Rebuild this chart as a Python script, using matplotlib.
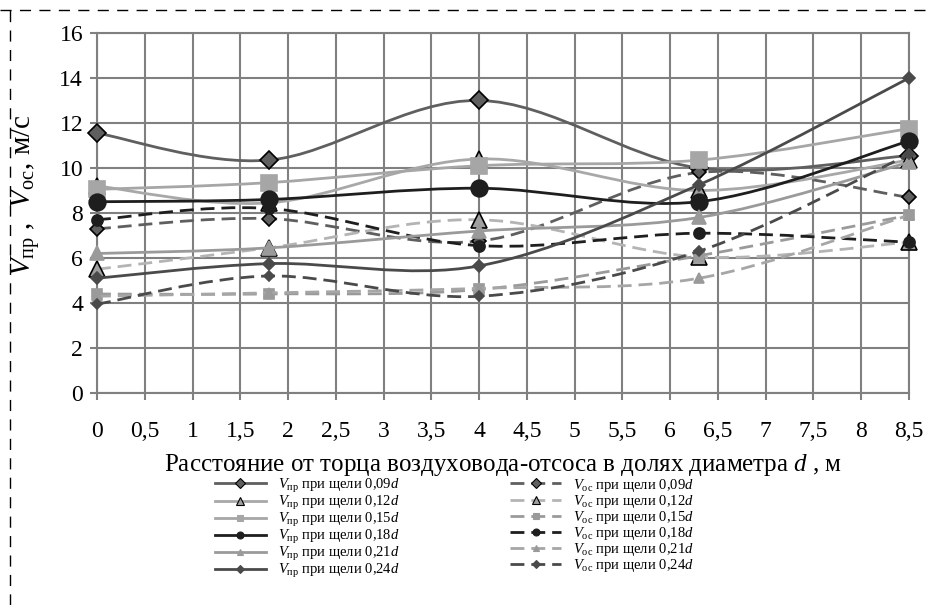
# Скорости в зоне щелевого отсоса (Excel-style smoothed lines)
import numpy as np
import matplotlib
matplotlib.use("Agg")
import matplotlib.pyplot as plt
from matplotlib.path import Path
from matplotlib.patches import PathPatch
from matplotlib.lines import Line2D

plt.rcParams['font.family'] = ['Liberation Serif', 'DejaVu Serif']
plt.rcParams['mathtext.fontset'] = 'custom'
plt.rcParams['mathtext.rm'] = 'Liberation Serif'
plt.rcParams['mathtext.it'] = 'Liberation Serif:italic'

# data
x_pts = [0, 1.8, 4, 6.3, 8.5]

v_pr_009 = [11.55, 10.35, 13.0, 10.0, 10.55]
v_pr_012 = [9.2, 8.45, 10.4, 9.0, 10.35]
v_pr_015 = [9.05, 9.35, 10.1, 10.35, 11.75]
v_pr_018 = [8.5, 8.6, 9.1, 8.5, 11.2]
v_pr_021 = [6.2, 6.45, 7.2, 7.8, 10.25]
v_pr_024 = [5.1, 5.75, 5.65, 9.25, 14.0]

v_os_009 = [7.3, 7.75, 6.75, 9.8, 8.7]
v_os_012 = [5.5, 6.45, 7.7, 6.05, 6.7]
v_os_015 = [4.4, 4.4, 4.6, 6.1, 7.9]
v_os_021 = [4.3, 4.45, 4.65, 5.1, 7.9]
v_os_018 = [7.7, 8.2, 6.55, 7.1, 6.7]
v_os_024 = [3.95, 5.2, 4.3, 6.3, 10.6]

slots = ["0,09", "0,12", "0,15", "0,18", "0,21", "0,24"]

x_ticks = [0, 0.5, 1, 1.5, 2, 2.5, 3, 3.5, 4, 4.5, 5, 5.5, 6, 6.5, 7, 7.5, 8, 8.5]
x_tick_labels = ["0", "0,5", "1", "1,5", "2", "2,5", "3", "3,5", "4", "4,5",
                 "5", "5,5", "6", "6,5", "7", "7,5", "8", "8,5"]
y_ticks = [0, 2, 4, 6, 8, 10, 12, 14, 16]


def smooth_path(xs, ys):
    # bezier smoothing like Excel's "smoothed line"
    pts = np.column_stack([xs, ys]).astype(float)
    n = len(pts)
    verts = [pts[0]]
    codes = [Path.MOVETO]
    for i in range(n - 1):
        p0 = pts[i - 1] if i > 0 else pts[i]
        p1 = pts[i]
        p2 = pts[i + 1]
        p3 = pts[i + 2] if i + 2 < n else pts[i + 1]
        verts += [p1 + (p2 - p0) / 6, p2 - (p3 - p1) / 6, p2]
        codes += [Path.CURVE4] * 3
    return Path(verts, codes)


# (values, colour, linestyle, marker, size, face, edge, legend size)
dash = (0, (5, 2.5))
series = [
    (v_pr_009, "#5f5f5f", "-", "D", 9, "#5f5f5f", "black", 5),
    (v_os_009, "#5f5f5f", dash, "D", 7.5, "#5f5f5f", "black", 5),
    (v_pr_012, "#a8a8a8", "-", "^", 11, "#a0a0a0", "black", 5.5),
    (v_os_012, "#b4b4b4", dash, "^", 11, "#a0a0a0", "black", 5.5),
    (v_pr_015, "#a6a6a6", "-", "s", 12, "#a6a6a6", "#a6a6a6", 5),
    (v_os_015, "#9a9a9a", dash, "s", 7, "#9a9a9a", "#9a9a9a", 5),
    (v_pr_018, "#1e1e1e", "-", "o", 12, "#1e1e1e", "#1e1e1e", 5),
    (v_os_018, "#1e1e1e", dash, "o", 8, "#1e1e1e", "#1e1e1e", 5),
    (v_pr_021, "#9a9a9a", "-", "^", 10, "#9a9a9a", "#9a9a9a", 5),
    (v_os_021, "#a6a6a6", dash, "^", 7.5, "#9a9a9a", "#9a9a9a", 5),
    (v_pr_024, "#4a4a4a", "-", "D", 6.5, "#4a4a4a", "#4a4a4a", 4.5),
    (v_os_024, "#4a4a4a", dash, "D", 5.5, "#4a4a4a", "#4a4a4a", 4.5),
]

fig = plt.figure(figsize=(9.29, 6.05), dpi=100)
ax = fig.add_axes([0.1044, 0.3504, 0.8741, 0.5951])

handles_pr, handles_os = [], []
z = 3
for k, (vals, col, ls, mk, ms, fc, ec, lms) in enumerate(series):
    patch = PathPatch(smooth_path(x_pts, vals), facecolor="none", edgecolor=col,
                      lw=2.0, linestyle=ls, capstyle="butt", zorder=z)
    ax.add_patch(patch)
    ax.plot(x_pts, vals, ls="none", marker=mk, ms=ms, mfc=fc, mec=ec, mew=1.2,
            clip_on=False, zorder=z + 0.5)
    z += 1
    h = Line2D([], [], color=col, lw=2.0, ls=ls, marker=mk, ms=lms, mfc=fc,
               mec=ec, mew=0.8)
    if k % 2 == 0:
        handles_pr.append(h)
    else:
        handles_os.append(h)

labels_pr = [r"$V_{\mathrm{пр}}$ при щели " + s + r"$d$" for s in slots]
labels_os = [r"$V_{\mathrm{ос}}$ при щели " + s + r"$d$" for s in slots]

ax.set_xlim(0, 8.5)
ax.set_ylim(0, 16)
ax.set_xticks(x_ticks)
ax.set_xticklabels(x_tick_labels)
ax.set_yticks(y_ticks)
ax.grid(True, color="#808080", lw=1.5, zorder=1)
ax.set_axisbelow(True)
for sp in ax.spines.values():
    sp.set_color("#808080")
    sp.set_linewidth(1.5)
ax.tick_params(axis="both", length=5, width=1.5, color="#808080", labelsize=17)
ax.tick_params(axis="x", pad=15)
ax.tick_params(axis="y", pad=5)

ax.set_xlabel(r"Расстояние от торца воздуховода-отсоса в долях диаметра $d$ , м",
              fontsize=18, labelpad=7)
ax.set_ylabel(r"$V_{\mathrm{пр}}$ ,  $V_{\mathrm{ос}}$, м/с", fontsize=21)
ax.yaxis.set_label_coords(-0.068, 0.55)

leg = fig.legend(handles_pr + handles_os, labels_pr + labels_os, ncol=2,
                 loc="upper left", bbox_to_anchor=(0.225, 0.222), frameon=False,
                 fontsize=10.5, handlelength=3.5, handletextpad=0.8,
                 columnspacing=7.6, labelspacing=-0.06, borderaxespad=0)

# dashed frame around the picture
fig.add_artist(Line2D([0, 1], [1 - 10 / 605, 1 - 10 / 605], color="black",
                      lw=1, ls=(0, (8, 6)), transform=fig.transFigure))
fig.add_artist(Line2D([10 / 929, 10 / 929], [0, 1 - 10 / 605], color="black",
                      lw=1, ls=(0, (8, 6)), transform=fig.transFigure))

fig.savefig("out.png", dpi=100)
